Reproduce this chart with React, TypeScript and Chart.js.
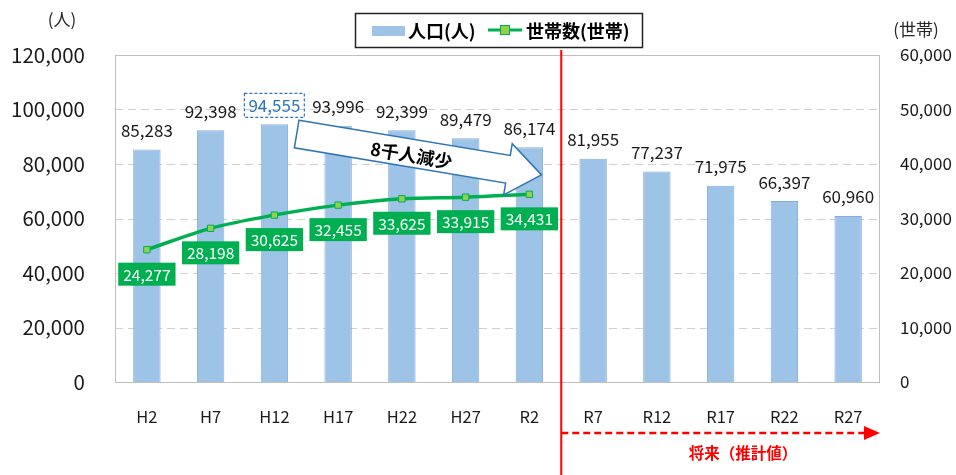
import React, { useEffect, useRef } from "react";
import { Chart, registerables } from "chart.js";

Chart.register(...registerables);

const categories = ["H2", "H7", "H12", "H17", "H22", "H27", "R2", "R7", "R12", "R17", "R22", "R27"];
const population = [85283, 92398, 94555, 93996, 92399, 89479, 86174, 81955, 77237, 71975, 66397, 60960];
const households = [24277, 28198, 30625, 32455, 33625, 33915, 34431, null, null, null, null, null];
const leftTicks = [0, 20000, 40000, 60000, 80000, 100000, 120000];
const rightTicks = [0, 10000, 20000, 30000, 40000, 50000, 60000];

const FONT = "'Noto Sans CJK JP', 'Noto Sans', sans-serif";
const fmt = (v: number) => v.toLocaleString("en-US");

const gridPlugin = {
  id: "gridDash",
  beforeDatasetsDraw(chart: any) {
    const ctx = chart.ctx as CanvasRenderingContext2D;
    const ca = chart.chartArea;
    const y = chart.scales.y;
    ctx.save();
    ctx.strokeStyle = "#d0d0d0";
    ctx.lineWidth = 1;
    ctx.setLineDash([8, 5]);
    leftTicks.forEach((v) => {
      if (v === 0 || v === 120000) return;
      const py = Math.round(y.getPixelForValue(v)) + 0.5;
      ctx.beginPath();
      ctx.moveTo(ca.left, py);
      ctx.lineTo(ca.right, py);
      ctx.stroke();
    });
    ctx.restore();
  },
};

const overlay = {
  id: "overlay",
  afterDatasetsDraw(chart: any) {
    const ctx = chart.ctx as CanvasRenderingContext2D;
    const ca = chart.chartArea;
    const x = chart.scales.x;
    const y = chart.scales.y;
    const y2 = chart.scales.y2;
    ctx.save();
    // plot border
    ctx.strokeStyle = "#bfbfbf";
    ctx.lineWidth = 1;
    ctx.strokeRect(Math.round(ca.left) + 0.5, Math.round(ca.top) + 0.5, Math.round(ca.right - ca.left) - 1, Math.round(ca.bottom - ca.top));

    // bar labels
    ctx.font = `17px ${FONT}`;
    ctx.textAlign = "center";
    ctx.textBaseline = "middle";
    population.forEach((v, i) => {
      const px = x.getPixelForValue(i);
      const py = y.getPixelForValue(v) - 19;
      const t = fmt(v);
      if (i === 2) {
        const w = ctx.measureText(t).width + 8;
        ctx.save();
        ctx.strokeStyle = "#2e75b6";
        ctx.setLineDash([3, 2]);
        ctx.lineWidth = 1.2;
        ctx.strokeRect(px - w / 2, py - 12, w, 24);
        ctx.restore();
        ctx.fillStyle = "#2e75b6";
      } else {
        ctx.fillStyle = "#1a1a1a";
      }
      ctx.fillText(t, px, py);
    });

    // household labels
    ctx.font = `15.5px ${FONT}`;
    households.forEach((v, i) => {
      if (v == null) return;
      const px = x.getPixelForValue(i);
      const py = y2.getPixelForValue(v) + 24;
      const t = fmt(v);
      const w = ctx.measureText(t).width + 10;
      ctx.fillStyle = "#00b050";
      ctx.fillRect(px - w / 2, py - 11, w, 23);
      ctx.fillStyle = "#ffffff";
      ctx.fillText(t, px, py + 1);
    });

    // big arrow
    const tx = x.getPixelForValue(2.35), ty = y.getPixelForValue(91000);
    const hx = x.getPixelForValue(6.19), hy = y.getPixelForValue(76000);
    const ang = Math.atan2(hy - ty, hx - tx);
    const len = Math.hypot(hx - tx, hy - ty);
    ctx.save();
    ctx.translate(tx, ty);
    ctx.rotate(ang);
    const bw = 14, hw = 26, hl = 34;
    ctx.beginPath();
    ctx.moveTo(0, -bw);
    ctx.lineTo(len - hl, -bw);
    ctx.lineTo(len - hl, -hw);
    ctx.lineTo(len, 0);
    ctx.lineTo(len - hl, hw);
    ctx.lineTo(len - hl, bw);
    ctx.lineTo(0, bw);
    ctx.closePath();
    ctx.fillStyle = "#ffffff";
    ctx.fill();
    ctx.strokeStyle = "#2e75b6";
    ctx.lineWidth = 1.5;
    ctx.stroke();
    ctx.fillStyle = "#000000";
    ctx.font = `bold 18px ${FONT}`;
    ctx.fillText("8千人減少", len * 0.47, 2);
    ctx.restore();

    // red divider
    const rx = x.getPixelForValue(6.5);
    ctx.strokeStyle = "#ff0000";
    ctx.lineWidth = 2;
    ctx.beginPath();
    ctx.moveTo(rx, ca.top - 5);
    ctx.lineTo(rx, chart.height);
    ctx.stroke();
    // dashed arrow
    const ay = ca.bottom + 51;
    const ax2 = ca.right;
    ctx.setLineDash([7, 4]);
    ctx.lineWidth = 2.5;
    ctx.beginPath();
    ctx.moveTo(rx, ay);
    ctx.lineTo(ax2 - 14, ay);
    ctx.stroke();
    ctx.setLineDash([]);
    ctx.fillStyle = "#ff0000";
    ctx.beginPath();
    ctx.moveTo(ax2, ay);
    ctx.lineTo(ax2 - 16, ay - 7);
    ctx.lineTo(ax2 - 16, ay + 7);
    ctx.closePath();
    ctx.fill();
    ctx.font = `bold 15.5px ${FONT}`;
    ctx.fillText("将来（推計値）", 743, ay + 20);

    // axis titles
    ctx.fillStyle = "#262626";
    ctx.font = `17px ${FONT}`;
    ctx.fillText("(人)", 62, 20);
    ctx.fillText("(世帯)", 916, 30);

    // legend
    ctx.strokeStyle = "#222222";
    ctx.lineWidth = 1.5;
    ctx.strokeRect(355.5, 13.5, 287, 34);
    ctx.fillStyle = "#9dc3e6";
    ctx.fillRect(372, 26, 33, 10);
    ctx.font = `bold 18px ${FONT}`;
    ctx.textAlign = "left";
    ctx.fillStyle = "#000000";
    ctx.fillText("人口(人)", 408, 31);
    ctx.strokeStyle = "#00b050";
    ctx.lineWidth = 3;
    ctx.beginPath();
    ctx.moveTo(488, 30);
    ctx.lineTo(522, 30);
    ctx.stroke();
    ctx.fillStyle = "#92d050";
    ctx.fillRect(500.5, 25.5, 9, 9);
    ctx.strokeStyle = "#00b050";
    ctx.lineWidth = 1;
    ctx.strokeRect(500.5, 25.5, 9, 9);
    ctx.fillStyle = "#000000";
    ctx.fillText("世帯数(世帯)", 526, 31);
    ctx.restore();
  },
};

export default function App() {
  const ref = useRef<HTMLCanvasElement>(null);
  useEffect(() => {
    document.body.style.margin = "0";
    const chart = new Chart(ref.current!, {
      type: "bar",
      data: {
        labels: categories,
        datasets: [
          {
            type: "line",
            label: "世帯数(世帯)",
            data: households,
            yAxisID: "y2",
            borderColor: "#00b050",
            borderWidth: 3.5,
            pointStyle: "rect",
            pointRadius: 4.5,
            pointBackgroundColor: "#92d050",
            pointBorderColor: "#00b050",
            pointBorderWidth: 1,
            cubicInterpolationMode: "monotone",
            spanGaps: false,
            order: 0,
          } as any,
          {
            type: "bar",
            label: "人口(人)",
            data: population,
            yAxisID: "y",
            backgroundColor: "#9dc3e6",
            borderColor: "#86aedb",
            borderWidth: 1,
            barPercentage: 0.43,
            categoryPercentage: 1,
            order: 1,
          },
        ],
      },
      options: {
        responsive: false,
        animation: false,
        layout: { padding: { top: 55, left: 0, right: 0, bottom: 0 } },
        plugins: { legend: { display: false }, tooltip: { enabled: false } },
        scales: {
          x: {
            grid: { display: false },
            border: { display: false },
            ticks: { font: { family: FONT, size: 16.5 }, color: "#1a1a1a", padding: 17 },
            afterFit: (s: any) => { s.height = 93; },
          },
          y: {
            position: "left",
            min: 0,
            max: 120000,
            afterBuildTicks: (s: any) => { s.ticks = leftTicks.map((v) => ({ value: v })); },
            ticks: { font: { family: FONT, size: 20.5 }, color: "#1a1a1a", padding: 22, callback: (v: any) => fmt(Number(v)) },
            grid: { display: false },
            border: { display: false },
            afterFit: (s: any) => { s.width = 115; },
          },
          y2: {
            position: "right",
            min: 0,
            max: 60000,
            afterBuildTicks: (s: any) => { s.ticks = rightTicks.map((v) => ({ value: v })); },
            ticks: { font: { family: FONT, size: 17 }, color: "#1a1a1a", padding: 12, callback: (v: any) => fmt(Number(v)) },
            grid: { display: false },
            border: { display: false },
            afterFit: (s: any) => { s.width = 76; },
          },
        },
      },
      plugins: [gridPlugin, overlay],
    } as any);
    return () => chart.destroy();
  }, []);
  return <canvas ref={ref} width={956} height={475} style={{ display: "block" }} />;
}
